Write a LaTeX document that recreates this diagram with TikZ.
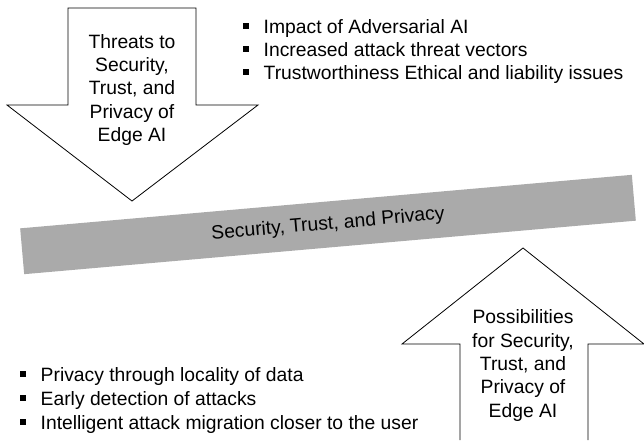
\documentclass[tikz,border=0pt]{standalone}
\usepackage{fontspec}
\setmainfont{Liberation Sans}
\usetikzlibrary{calc}
\definecolor{bandgray}{RGB}{170,170,170}
\tikzset{arrowshape/.style={draw=black,line width=0.8pt,fill=white,line join=miter},
  band/.style={fill=bandgray,minimum width=614pt,minimum height=46pt,inner sep=0pt},
  arrowtext/.style={align=center,inner sep=0pt},
  listitem/.style={anchor=base west,inner sep=0pt}}
\newcommand*{\sqbullet}{\rule[5pt]{5.5pt}{5.5pt}}

\begin{document}
\begin{tikzpicture}[x=1pt,y=-1pt,every node/.style={font=\fontsize{19.3}{23.3}\selectfont}]
\useasboundingbox (0,0) rectangle (644,440);

% Down arrow (threats)
\coordinate (A) at (68,8);
\coordinate (B) at (196,8);
\coordinate (C) at (196,105);
\coordinate (D) at (258,105);
\coordinate (E) at (132,201);
\coordinate (F) at (7,105);
\coordinate (G) at (68,105);
\draw [arrowshape] (A) -- (B) -- (C) -- (D) -- (E) -- (F) -- (G) -- cycle;
\node [arrowtext] (threats) at (132,90)
   {Threats to\\Security,\\Trust, and\\Privacy of\\Edge AI};

% Up arrow (possibilities)
\coordinate (P) at (460,440);
\coordinate (Q) at (460,344);
\coordinate (R) at (402,344);
\coordinate (S) at (523,248);
\coordinate (T) at (644,344);
\coordinate (U) at (588,344);
\coordinate (V) at (588,440);
\draw [arrowshape] (P) -- (Q) -- (R) -- (S) -- (T) -- (U) -- (V);
\node [arrowtext] (possib) at (523,365.5)
   {Possibilities\\for Security,\\Trust, and\\Privacy of\\Edge AI};

% Tilted band
\node [band,rotate=5] (stp) at (328,224.5) {Security, Trust, and Privacy};

% Threat list
\node [listitem] (thr1) at (243,33.5) {\sqbullet\hspace{15pt}Impact of Adversarial AI};
\node [listitem] (thr2) at (243,56.5) {\sqbullet\hspace{15pt}Increased attack threat vectors};
\node [listitem] (thr3) at (243,79.5) {\sqbullet\hspace{15pt}Trustworthiness Ethical and liability issues};

% Possibility list
\node [listitem] (pos1) at (20,381.5) {\sqbullet\hspace{15pt}Privacy through locality of data};
\node [listitem] (pos2) at (20,405.5) {\sqbullet\hspace{15pt}Early detection of attacks};
\node [listitem] (pos3) at (20,429.5) {\sqbullet\hspace{15pt}Intelligent attack migration closer to the user};
\end{tikzpicture}
\end{document}
